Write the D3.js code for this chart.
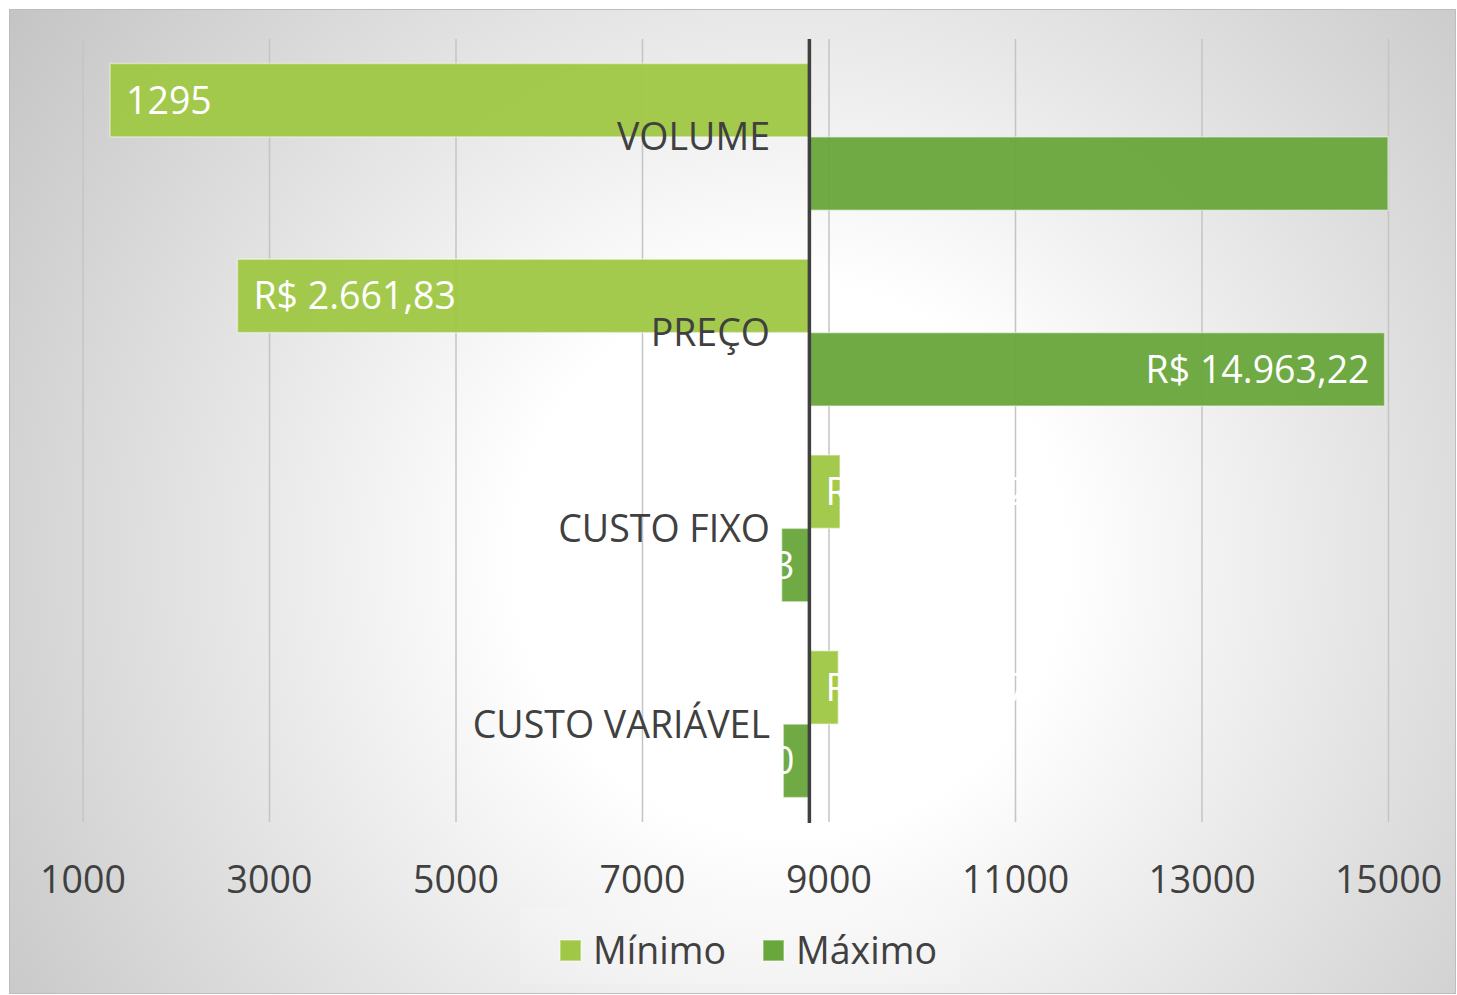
<!DOCTYPE html>
<html>
<head>
<meta charset="utf-8">
<script src="https://cdn.jsdelivr.net/npm/d3@7"></script>
<style>
  body { margin: 0; background: #ffffff; }
  svg text { font-family: "Open Sans", sans-serif; }
</style>
</head>
<body>
<div id="chart"></div>
<script>
//chart data
var categories = ["VOLUME", "PREÇO", "CUSTO FIXO", "CUSTO VARIÁVEL"];
var series = ["Mínimo", "Máximo"];
var minValues = [1295, 2661.83, 9123.42, 9105.17];
var maxValues = [15000, 14963.22, 8498.13, 8515.30];
var minLabels = ["1295", "R$ 2.661,83", "R$ 9.123,42", "R$ 9.105,17"];
var maxLabels = ["", "R$ 14.963,22", "R$ 8.498,13", "R$ 8.515,30"];
var baseValue = 8795;
var tickValues = [1000, 3000, 5000, 7000, 9000, 11000, 13000, 15000];
var colors = ["#a0c846", "#69a73c"];

var W = 1457, H = 995;
var plot = {left: 82.5, right: 1388, top: 39, bottom: 822};
var fontSize = 37.5;

var svg = d3.select("#chart").append("svg")
    .attr("width", W)
    .attr("height", H);

//background with radial gradient
var defs = svg.append("defs");
var grad = defs.append("radialGradient")
    .attr("id", "bg")
    .attr("gradientUnits", "userSpaceOnUse")
    .attr("cx", 790).attr("cy", 560).attr("r", 980);
grad.append("stop").attr("offset", 0).attr("stop-color", "#ffffff");
grad.append("stop").attr("offset", 0.28).attr("stop-color", "#ffffff");
grad.append("stop").attr("offset", 1).attr("stop-color", "#c2c2c2");

svg.append("rect")
    .attr("x", 9.5).attr("y", 9.5)
    .attr("width", 1446).attr("height", 984)
    .attr("fill", "url(#bg)")
    .attr("stroke", "#bdbdbd")
    .attr("stroke-width", 1);

//scales
var x = d3.scaleLinear().domain([1000, 15000]).range([plot.left, plot.right]);
var y = d3.scaleBand().domain(categories)
    .range([plot.top, plot.bottom])
    .paddingInner(0.25).paddingOuter(0.125);
var ySub = d3.scaleBand().domain(series).range([0, y.bandwidth()]);

//gridlines
var grid = svg.append("g")
    .attr("transform", "translate(0," + plot.bottom + ")")
    .call(d3.axisBottom(x).tickValues(tickValues)
        .tickSize(-(plot.bottom - plot.top)).tickFormat(""));
grid.select(".domain").remove();
grid.selectAll("line").attr("stroke", "#c4c4c4").attr("stroke-width", 1.5);

//tick labels
var axis = svg.append("g")
    .attr("transform", "translate(0," + plot.bottom + ")")
    .call(d3.axisBottom(x).tickValues(tickValues).tickSize(0).tickPadding(44)
        .tickFormat(function(d) { return d; }));
axis.select(".domain").remove();
axis.selectAll("text")
    .attr("font-size", fontSize)
    .attr("fill", "#404040")
    .style("font-family", "'Open Sans', sans-serif");

//bars
var rows = [];
categories.forEach(function(c, i) {
    rows.push({cat: c, s: 0, v: minValues[i], label: minLabels[i]});
    rows.push({cat: c, s: 1, v: maxValues[i], label: maxLabels[i]});
});

function x0(d) { return Math.min(x(baseValue), x(d.v)); }
function x1(d) { return Math.max(x(baseValue), x(d.v)); }
function yTop(d) { return y(d.cat) + ySub(series[d.s]); }

svg.append("g").selectAll("rect")
    .data(rows)
    .enter()
    .append("rect")
    .attr("x", x0)
    .attr("y", yTop)
    .attr("width", function(d) { return x1(d) - x0(d); })
    .attr("height", ySub.bandwidth())
    .attr("fill", function(d) { return colors[d.s]; })
    .attr("fill-opacity", 0.96)
    .attr("stroke", "rgba(255,255,255,0.45)")
    .attr("stroke-width", 1.5);

//value labels
svg.append("g").selectAll("text")
    .data(rows)
    .enter()
    .append("text")
    .attr("x", function(d) { return d.s === 0 ? x0(d) + 16 : x1(d) - 15; })
    .attr("y", function(d) { return yTop(d) + ySub.bandwidth() / 2; })
    .attr("dy", "0.36em")
    .attr("text-anchor", function(d) { return d.s === 0 ? "start" : "end"; })
    .attr("font-size", fontSize)
    .attr("fill", "#ffffff")
    .text(function(d) { return d.label; });

//base line
svg.append("line")
    .attr("x1", x(baseValue)).attr("x2", x(baseValue))
    .attr("y1", plot.top).attr("y2", plot.bottom + 1)
    .attr("stroke", "#404040")
    .attr("stroke-width", 3.5);

//category labels
svg.append("g").selectAll("text")
    .data(categories)
    .enter()
    .append("text")
    .attr("x", 770)
    .attr("y", function(d) { return y(d) + y.bandwidth() / 2; })
    .attr("dy", "0.36em")
    .attr("text-anchor", "end")
    .attr("font-size", fontSize)
    .attr("fill", "#404040")
    .text(function(d) { return d; });

//legend
var legend = svg.append("g");
legend.append("rect")
    .attr("x", 520).attr("y", 908)
    .attr("width", 440).attr("height", 76)
    .attr("fill", "#ffffff").attr("fill-opacity", 0.15);
var legendX = [560, 763];
series.forEach(function(s, i) {
    legend.append("rect")
        .attr("x", legendX[i]).attr("y", 940)
        .attr("width", 21).attr("height", 21)
        .attr("fill", colors[i])
        .attr("stroke", "rgba(255,255,255,0.45)")
        .attr("stroke-width", 1.5);
    legend.append("text")
        .attr("x", legendX[i] + 33)
        .attr("y", 950)
        .attr("dy", "0.36em")
        .attr("font-size", fontSize)
        .attr("fill", "#404040")
        .text(s);
});
</script>
</body>
</html>
